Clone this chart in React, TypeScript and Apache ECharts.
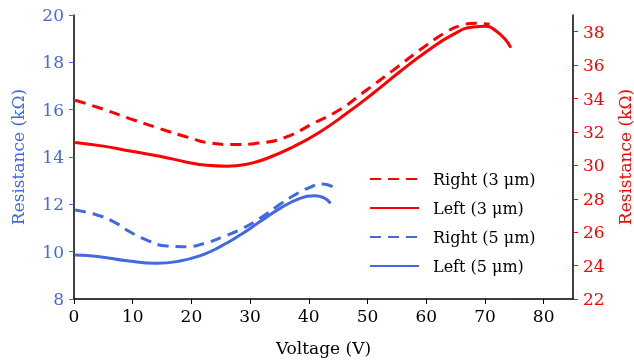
import React, { useEffect, useRef } from "react";
import * as echarts from "echarts";

const BLUE = "#4169E1";
const RED = "#FF0000";

const right3V = [0.2, 5, 9.5, 14.6, 19.2, 23.1, 27.1, 31.7, 36.2, 40.7, 45.3, 49.8, 54.4, 58.9, 63.4, 66, 68.5, 70.8];
const right3R = [33.9, 33.36, 32.8, 32.2, 31.7, 31.34, 31.25, 31.34, 31.7, 32.5, 33.34, 34.5, 35.7, 36.9, 37.98, 38.38, 38.5, 38.44];

const left3V = [0.2, 5, 9.5, 14.6, 19.2, 22.6, 26, 29.4, 32.8, 37.3, 41.9, 46.4, 50.9, 55.5, 60, 64.6, 68, 70.2, 71.9, 73.6, 74.4];
const left3R = [31.37, 31.15, 30.86, 30.55, 30.19, 30.0, 29.95, 30.07, 30.41, 31.1, 32.0, 33.1, 34.3, 35.6, 36.8, 37.84, 38.28, 38.32, 38.04, 37.48, 37.04];

const right5V = [0.2, 3.9, 6.7, 9.5, 12.4, 15.8, 19.2, 22.6, 25.4, 28.8, 31.7, 34.5, 37.3, 40.2, 42.4, 44.1];
const right5R = [11.76, 11.55, 11.27, 10.84, 10.49, 10.24, 10.21, 10.38, 10.63, 10.99, 11.41, 11.9, 12.35, 12.72, 12.86, 12.74];

const left5V = [0.2, 4.4, 9, 14.1, 17.5, 21.4, 24.9, 28.3, 31.7, 35.1, 38.5, 41, 42.6, 43.7];
const left5R = [9.86, 9.79, 9.62, 9.51, 9.58, 9.82, 10.21, 10.7, 11.27, 11.83, 12.25, 12.36, 12.27, 12.04];

const xTicks = [0, 10, 20, 30, 40, 50, 60, 70, 80];
const leftTicks = [8, 10, 12, 14, 16, 18, 20];
const rightTicks = [22, 24, 26, 28, 30, 32, 34, 36, 38];

const zip = (a: number[], b: number[]) => a.map((v, i) => [v, b[i]]);

export default function App() {
  const ref = useRef<HTMLDivElement>(null);
  useEffect(() => {
    document.body.style.margin = "0";
    document.body.style.overflow = "hidden";
    document.documentElement.style.overflow = "hidden";
    if (!ref.current) return;
    const chart = echarts.init(ref.current, null, { renderer: "svg", width: 634, height: 360 });
    const font = "DejaVu Serif";
    const dash = [11, 7];
    chart.setOption({
      animation: false,
      textStyle: { fontFamily: font },
      grid: { left: 74, right: 61, top: 15, bottom: 61, containLabel: false, outerBoundsMode: "none" },
      legend: {
        orient: "vertical",
        left: 364,
        top: 166,
        itemWidth: 49,
        itemHeight: 14,
        itemGap: 13,
        itemStyle: { opacity: 0 },
        textStyle: { fontFamily: font, fontSize: 16, color: "#000", padding: [0, 0, 0, 9] },
        data: ["Right (3 μm)", "Left (3 μm)", "Right (5 μm)", "Left (5 μm)"],
      },
      xAxis: {
        type: "value",
        min: 0,
        max: 85,
        interval: 10,
        name: "Voltage (V)",
        nameLocation: "middle",
        nameGap: 40,
        nameTextStyle: { fontFamily: font, fontSize: 17, color: "#000" },
        axisLine: { lineStyle: { color: "#000", width: 1.5 } },
        axisTick: { show: true, length: 5, inside: false, customValues: xTicks, lineStyle: { color: "#000" } },
        axisLabel: { customValues: xTicks, fontFamily: font, fontSize: 17, color: "#000", margin: 8 },
        splitLine: { show: false },
      },
      yAxis: [
        {
          type: "value",
          position: "left",
          min: 8,
          max: 20,
          interval: 2,
          name: "Resistance (kΩ)",
          nameLocation: "middle",
          nameRotate: 90,
          nameGap: 48,
          nameTextStyle: { fontFamily: font, fontSize: 17, color: BLUE },
          axisLine: { show: true, onZero: false, lineStyle: { color: "#000", width: 1.5 } },
          axisTick: { show: true, length: 5, customValues: leftTicks, lineStyle: { color: BLUE } },
          axisLabel: { customValues: leftTicks, fontFamily: font, fontSize: 17, color: BLUE, margin: 10 },
          splitLine: { show: false },
        },
        {
          type: "value",
          position: "right",
          min: 22,
          max: 39,
          interval: 2,
          name: "Resistance (kΩ)",
          nameLocation: "middle",
          nameRotate: 90,
          nameGap: 43,
          nameTextStyle: { fontFamily: font, fontSize: 17, color: RED },
          axisLine: { show: true, onZero: false, lineStyle: { color: "#000", width: 1.5 } },
          axisTick: { show: true, length: 5, customValues: rightTicks, lineStyle: { color: RED } },
          axisLabel: { customValues: rightTicks, fontFamily: font, fontSize: 17, color: RED, margin: 10 },
          splitLine: { show: false },
        },
      ],
      series: [
        {
          name: "Right (3 μm)",
          type: "line",
          yAxisIndex: 1,
          data: zip(right3V, right3R),
          smooth: true,
          showSymbol: false,
          symbol: "none",
          color: RED,
          lineStyle: { color: RED, width: 3, type: dash },
        },
        {
          name: "Left (3 μm)",
          type: "line",
          yAxisIndex: 1,
          data: zip(left3V, left3R),
          smooth: true,
          showSymbol: false,
          symbol: "none",
          color: RED,
          lineStyle: { color: RED, width: 3 },
        },
        {
          name: "Right (5 μm)",
          type: "line",
          yAxisIndex: 0,
          data: zip(right5V, right5R),
          smooth: true,
          showSymbol: false,
          symbol: "none",
          color: BLUE,
          lineStyle: { color: BLUE, width: 3, type: dash },
        },
        {
          name: "Left (5 μm)",
          type: "line",
          yAxisIndex: 0,
          data: zip(left5V, left5R),
          smooth: true,
          showSymbol: false,
          symbol: "none",
          color: BLUE,
          lineStyle: { color: BLUE, width: 3 },
        },
      ],
    });
    return () => chart.dispose();
  }, []);
  return (
    <div style={{ position: "fixed", left: 0, top: 0, width: 634, height: 360, overflow: "hidden" }}>
      <div ref={ref} style={{ width: 634, height: 360 }} />
    </div>
  );
}
